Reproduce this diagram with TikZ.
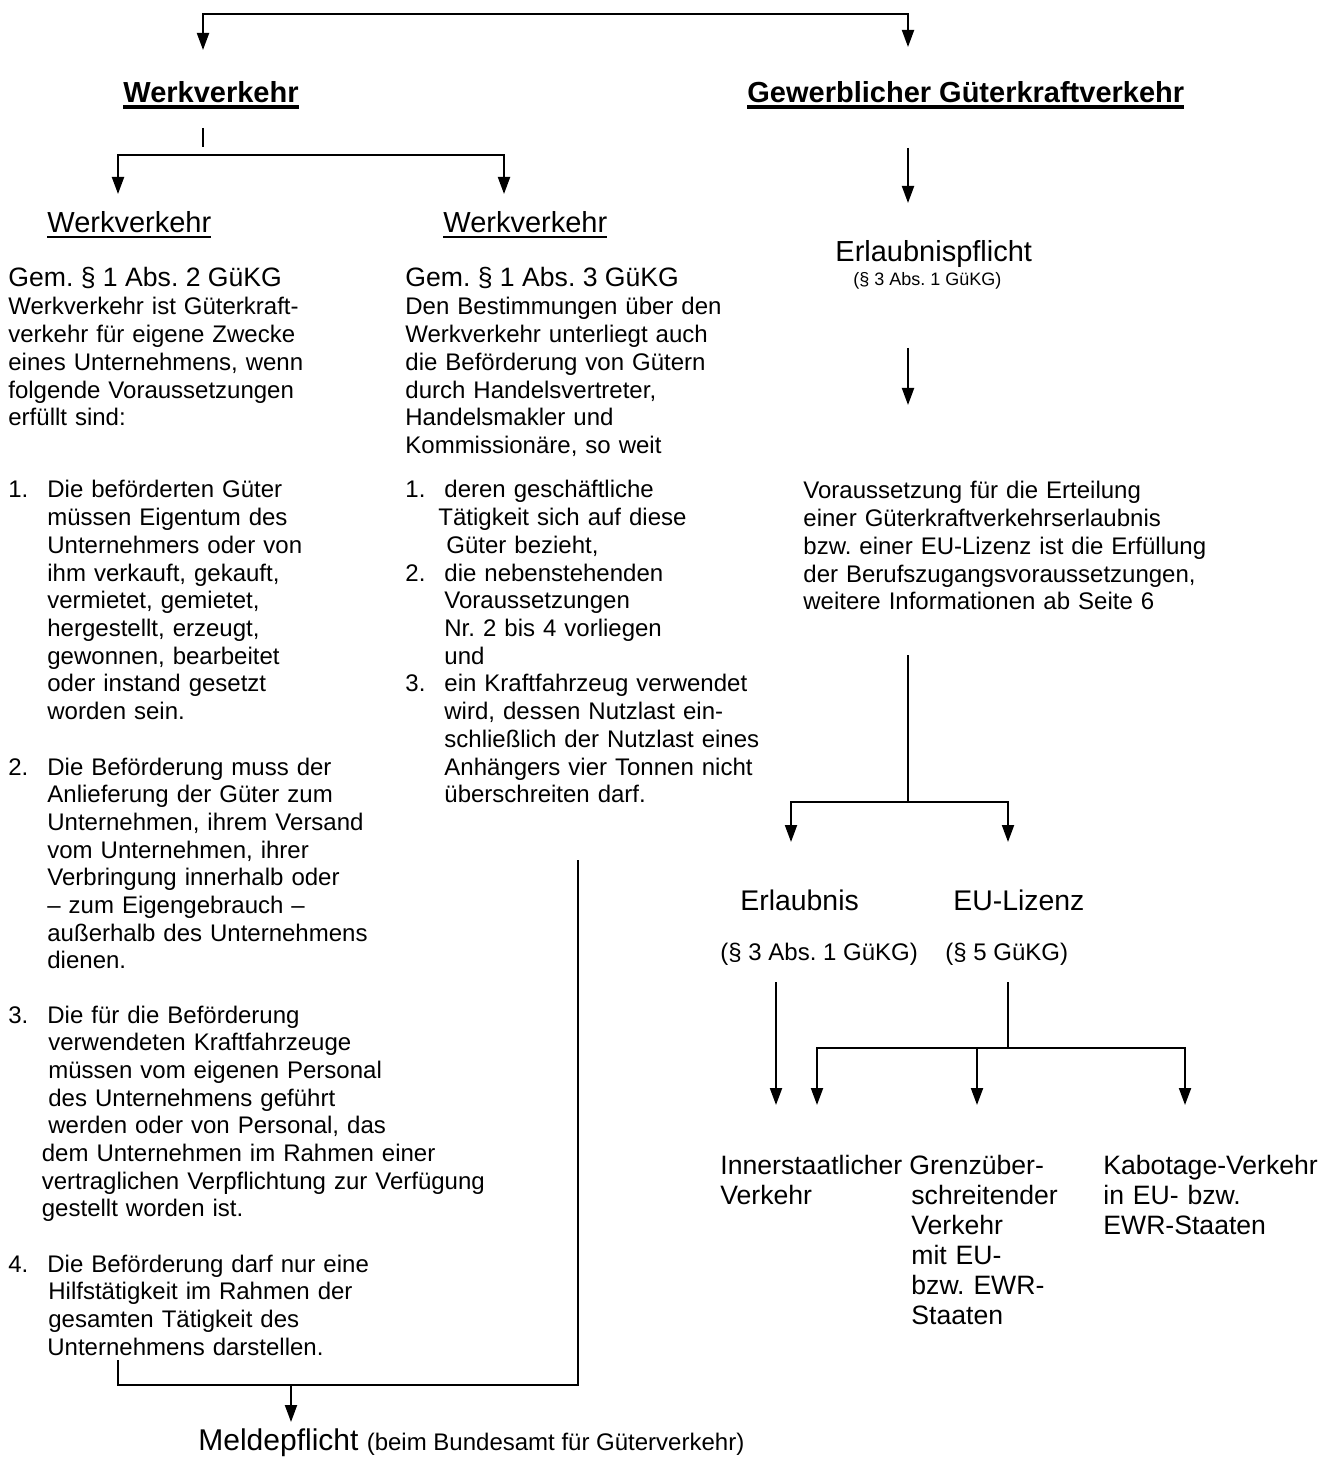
\documentclass[tikz,border=0pt]{standalone}
\usepackage{fontspec}
\setmainfont{Liberation Sans}
\usetikzlibrary{arrows.meta}
\frenchspacing

% underline with own thickness, 2pt under the baseline
\newcommand{\ulbar}[2]{\leavevmode\setbox0=\hbox{#2}%
  \rlap{\rule[\dimexpr-2pt-#1/2\relax]{\wd0}{#1}}\box0}
% list number and indent of the following lines
\newcommand{\lnum}[1]{\makebox[19.5pt][l]{#1}}
\newcommand{\ind}[1][0pt]{\hspace*{\dimexpr19.5pt+#1\relax}}

\tikzset{
  body/.style={anchor=base west, inner sep=0pt, text width=330pt,
    font=\fontsize{12}{13.85}\selectfont},
  head/.style={anchor=base west, inner sep=0pt, font=\fontsize{14.5}{17}\selectfont},
  headbf/.style={head, font=\fontsize{14.5}{17}\selectfont\bfseries},
  gem/.style={anchor=base west, inner sep=0pt, font=\fontsize{13.3}{15}\selectfont},
  lab/.style={anchor=base west, inner sep=0pt, text width=125pt,
    font=\fontsize{13.3}{15}\selectfont},
  conn/.style={line width=1pt},
  arr/.style={conn, ->},
}

\begin{document}
\begin{tikzpicture}[x=0.5pt, y=-0.5pt, >={Triangle[width=6pt,length=8.5pt]}]
  \useasboundingbox (0,0) rectangle (1338,1459);

  % headings
  \node[headbf] (wv) at (123,103) {\ulbar{1.8pt}{Werkverkehr}};
  \node[headbf] (gv) at (747,103) {\ulbar{1.8pt}{Gewerblicher Güterkraftverkehr}};
  \node[head] (wvA) at (47,233) {\ulbar{1.3pt}{Werkverkehr}};
  \node[head] (wvB) at (443,233) {\ulbar{1.3pt}{Werkverkehr}};
  \node[head] (erlp) at (835,262) {Erlaubnispflicht};
  \node[anchor=base west, inner sep=0pt, font=\fontsize{9}{11}\selectfont]
    (erlpRef) at (853,286) {(§ 3 Abs. 1 GüKG)};

  % left column
  \node[gem] (gemA) at (8,287) {Gem. § 1 Abs. 2 GüKG};
  \node[body] (defA) at (8,315) {Werkverkehr ist Güterkraft-\\verkehr für eigene Zwecke\\
    eines Unternehmens, wenn\\folgende Voraussetzungen\\erfüllt sind:};
  \node[body] (itA1) at (8,498) {\lnum{1.}Die beförderten Güter\\\ind müssen Eigentum des\\
    \ind Unternehmers oder von\\\ind ihm verkauft, gekauft,\\\ind vermietet, gemietet,\\
    \ind hergestellt, erzeugt,\\\ind gewonnen, bearbeitet\\\ind oder instand gesetzt\\
    \ind worden sein.};
  \node[body] (itA2) at (8,775) {\lnum{2.}Die Beförderung muss der\\
    \ind Anlieferung der Güter zum\\\ind Unternehmen, ihrem Versand\\
    \ind vom Unternehmen, ihrer\\\ind Verbringung innerhalb oder\\
    \ind – zum Eigengebrauch –\\\ind außerhalb des Unternehmens\\\ind dienen.};
  \node[body] (itA3) at (8,1023) {\lnum{3.}Die für die Beförderung\\
    \ind[0.5pt]verwendeten Kraftfahrzeuge\\\ind[0.5pt]müssen vom eigenen Personal\\
    \ind[0.5pt]des Unternehmens geführt\\\ind[0.5pt]werden oder von Personal, das\\
    \ind[-2.75pt]dem Unternehmen im Rahmen einer\\
    \ind[-2.75pt]vertraglichen Verpflichtung zur Verfügung\\
    \ind[-2.75pt]gestellt worden ist.};
  \node[body] (itA4) at (8,1272) {\lnum{4.}Die Beförderung darf nur eine\\
    \ind[0.5pt]Hilfstätigkeit im Rahmen der\\\ind[0.5pt]gesamten Tätigkeit des\\
    \ind Unternehmens darstellen.};

  % middle column
  \node[gem] (gemB) at (405,287) {Gem. § 1 Abs. 3 GüKG};
  \node[body] (defB) at (405,315) {Den Bestimmungen über den\\Werkverkehr unterliegt auch\\
    die Beförderung von Gütern\\durch Handelsvertreter,\\Handelsmakler und\\
    Kommissionäre, so weit};
  \node[body] (itB) at (405,498) {\lnum{1.}deren geschäftliche\\
    \ind[-3pt]Tätigkeit sich auf diese\\\ind[1pt]Güter bezieht,\\
    \lnum{2.}die nebenstehenden\\\ind Voraussetzungen\\\ind Nr. 2 bis 4 vorliegen\\
    \ind und\\
    \lnum{3.}ein Kraftfahrzeug verwendet\\\ind wird, dessen Nutzlast ein-\\
    \ind schließlich der Nutzlast eines\\\ind Anhängers vier Tonnen nicht\\
    \ind überschreiten darf.};

  % right column
  \node[body] (vor) at (803,499) {Voraussetzung für die Erteilung\\
    einer Güterkraftverkehrserlaubnis\\bzw. einer EU-Lizenz ist die Erfüllung\\
    der Berufszugangsvoraussetzungen,\\weitere Informationen ab Seite 6};
  \node[head, font=\fontsize{14.2}{17}\selectfont] (erl) at (740,910) {Erlaubnis};
  \node[head, font=\fontsize{14.2}{17}\selectfont] (eul) at (953,910) {EU-Lizenz};
  \node[body, text width=] (erlRef) at (720,960) {(§ 3 Abs. 1 GüKG)};
  \node[body, text width=] (eulRef) at (945,960) {(§ 5 GüKG)};
  \node[lab] (inner) at (720,1174) {Innerstaatlicher\\Verkehr};
  \node[lab] (grenz) at (909,1174) {Grenzüber-\\\hspace*{1pt}schreitender\\
    \hspace*{1pt}Verkehr\\\hspace*{1pt}mit EU-\\\hspace*{1pt}bzw. EWR-\\\hspace*{1pt}Staaten};
  \node[lab] (kab) at (1103,1174) {Kabotage-Verkehr\\in EU- bzw.\\EWR-Staaten};

  % bottom
  \node[anchor=base west, inner sep=0pt] (meld) at (198,1450)
    {\fontsize{15}{17}\selectfont Meldepflicht
     \fontsize{12}{14}\selectfont(beim Bundesamt für Güterverkehr)};

  % connector points
  \foreach \n/\x/\y in {top/555/14, wvIn/203/50, gvIn/908/47,
    tickT/203/128, tickB/203/147, forkW/300/155, wvAIn/118/194, wvBIn/504/194,
    gvOut/908/148, erlpIn/908/203, erlpOut/908/348, vorIn/908/405,
    vorOut/908/655, forkV/908/802, erlIn/791/842, eulIn/1008/842,
    erlOut/776/982, innerIn/776/1105, eulOut/1008/982, forkE/1008/1048,
    innerIn2/817/1105, grenzIn/977/1105, kabIn/1185/1105,
    brA/118/1360, brB/578/860, forkM/291/1385, meldIn/291/1422} {
    \coordinate (\n) at (\x,\y);
  }

  % connectors
  \draw[conn, <->] (wvIn) |- (top) -| (gvIn);
  \draw[conn] (tickT) -- (tickB);
  \draw[conn, <->] (wvAIn) |- (forkW) -| (wvBIn);
  \draw[arr] (gvOut) -- (erlpIn);
  \draw[arr] (erlpOut) -- (vorIn);
  \draw[conn] (vorOut) -- (forkV);
  \draw[conn, <->] (erlIn) |- (forkV) -| (eulIn);
  \draw[arr] (erlOut) -- (innerIn);
  \draw[conn] (eulOut) -- (forkE);
  \draw[conn, <->] (innerIn2) |- (forkE) -| (kabIn);
  \draw[arr] (forkE -| grenzIn) -- (grenzIn);
  \draw[conn] (brA) |- (forkM) -| (brB);
  \draw[arr] (forkM) -- (meldIn);
\end{tikzpicture}
\end{document}
